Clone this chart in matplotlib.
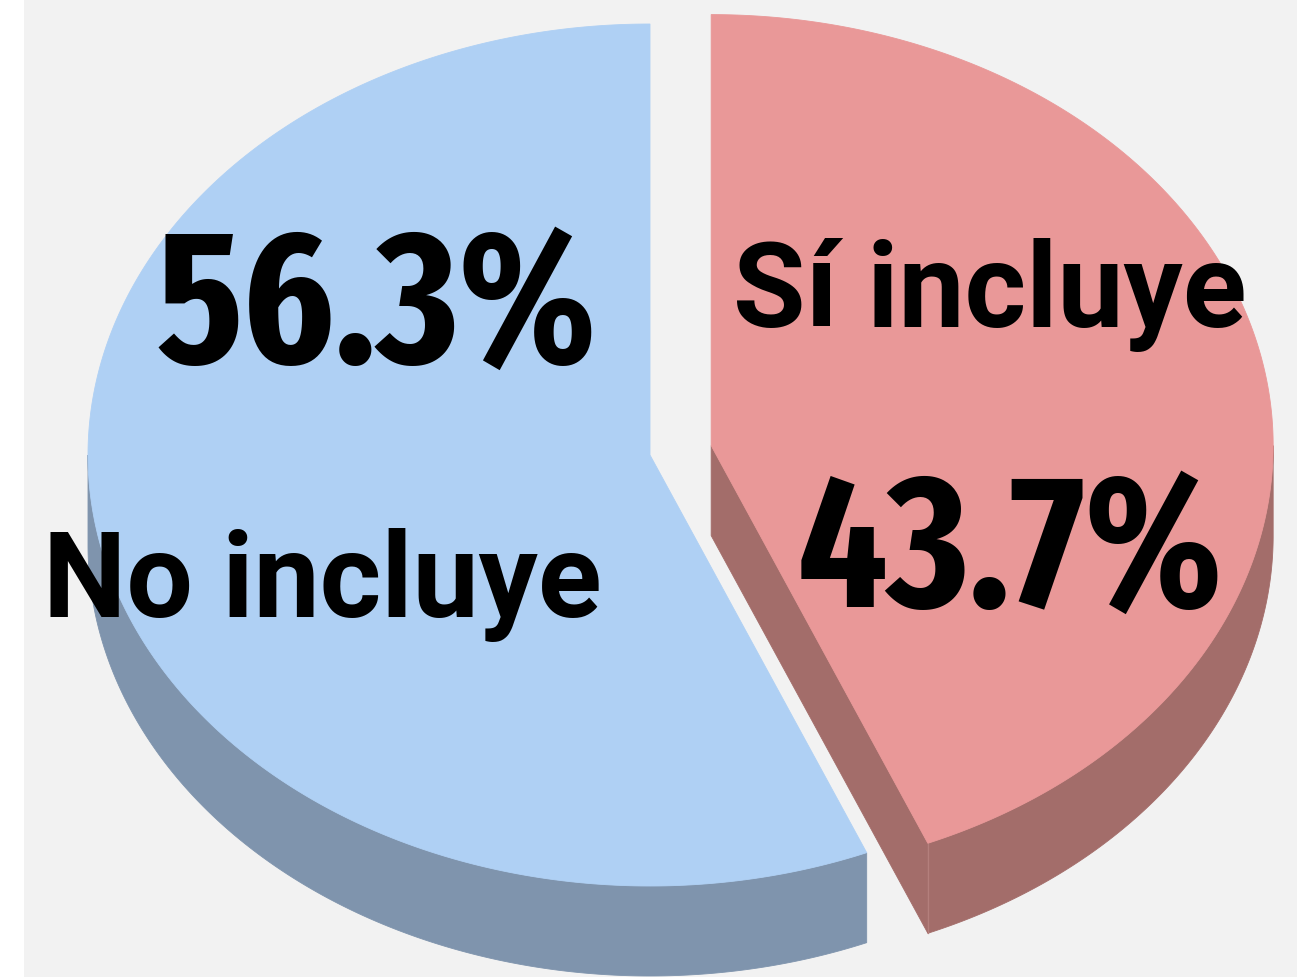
import numpy as np
import matplotlib
matplotlib.use("Agg")
import matplotlib.pyplot as plt
from matplotlib.patches import Polygon

# ---- data ----
categories = ["No incluye", "Sí incluye"]
values = [56.3, 43.7]
pct_labels = [f"{v:.1f}%" for v in values]

# ---- styling / layout ----
top_colors = ["#afd0f4", "#e99898"]
side_colors = ["#7f94ad", "#a36d6a"]
explode = [0.0, 0.111]
bg = "#f2f2f2"

W, H = 1297, 977
cx, cy = 650.0, 455.0     # pie centre (pixels)
rx, ry = 562.0, 431.0     # ellipse radii
depth = 90.0              # thickness of the pie

# label positions (pixels): (category label), (percentage label)
cat_pos = [(322, 617), (990, 327)]
pct_pos = [(377, 363), (1010, 607)]

fig = plt.figure(figsize=(W / 100, H / 100), dpi=100, facecolor="white")
ax = fig.add_axes([24 / W, 0, 1 - 24 / W, 1])
ax.set_facecolor(bg)
ax.set_xlim(24, W)
ax.set_ylim(H, 0)
ax.axis("off")
ax.add_patch(plt.Rectangle((24, 0), W - 24, H, color=bg, zorder=0))


def pt(c, t, dz=0.0):
    return np.column_stack([c[0] + rx * np.cos(t), c[1] - ry * np.sin(t) + dz])


# slice angles: start at 12 o'clock
total = sum(values)
fracs = [v / total for v in values]
red_start = np.pi / 2
red_end = np.pi / 2 - 2 * np.pi * fracs[1]
blue_start = np.pi / 2
blue_end = np.pi / 2 + 2 * np.pi * fracs[0]
spans = [(blue_start, blue_end), (red_end, red_start)]  # increasing angle order

centers = []
for i, (t0, t1) in enumerate(spans):
    mid = 0.5 * (t0 + t1)
    e = explode[i]
    centers.append((cx + rx * e * np.cos(mid), cy - ry * e * np.sin(mid)))


def outer_side(i, z):
    t0, t1 = spans[i]
    for k in range(-1, 2):
        a0 = max(t0, np.pi + 2 * np.pi * k)
        a1 = min(t1, 2 * np.pi + 2 * np.pi * k)
        if a1 > a0:
            t = np.linspace(a0, a1, 300)
            upper = pt(centers[i], t)
            lower = pt(centers[i], t[::-1], depth)
            ax.add_patch(Polygon(np.vstack([upper, lower]), closed=True,
                                 facecolor=side_colors[i], edgecolor=side_colors[i],
                                 lw=0.6, zorder=z))


def cut_face(i, t, z):
    c = centers[i]
    rim = pt(c, np.array([t]))[0]
    poly = np.array([c, rim, rim + [0, depth], [c[0], c[1] + depth]])
    ax.add_patch(Polygon(poly, closed=True, facecolor=side_colors[i],
                         edgecolor=side_colors[i], lw=0.6, zorder=z))
    return rim


rim = cut_face(1, red_end, 1)
outer_side(1, 1)
ax.plot([rim[0], rim[0]], [rim[1], rim[1] + depth], color="#b47f7c", lw=0.9, zorder=1.5)
outer_side(0, 1)

# ---- tops ----
for i, (t0, t1) in enumerate(spans):
    t = np.linspace(t0, t1, 600)
    poly = np.vstack([[centers[i]], pt(centers[i], t)])
    ax.add_patch(Polygon(poly, closed=True, facecolor=top_colors[i],
                         edgecolor=top_colors[i], lw=0.6, zorder=2))

# ---- labels ----
pct_font = ["Fira Sans Extra Condensed", "Fira Sans Condensed", "Roboto Condensed", "Roboto", "DejaVu Sans"]
cat_font = ["Roboto", "DejaVu Sans"]
for i in range(len(categories)):
    ax.text(*cat_pos[i], categories[i], ha="center", va="baseline",
            fontsize=85, fontweight="bold", family=cat_font, color="black", zorder=5)
    ax.text(*pct_pos[i], pct_labels[i], ha="center", va="baseline",
            fontsize=136, fontweight="bold", family=pct_font, color="black", zorder=5)

fig.savefig("out.png", dpi=100, facecolor="white")
